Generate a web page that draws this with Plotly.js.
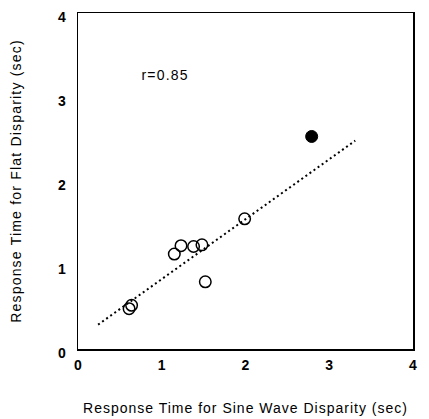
<!DOCTYPE html>
<html>
<head>
<meta charset="utf-8">
<script src="https://cdn.plot.ly/plotly-3.0.1.min.js"></script>
<style>
html,body{margin:0;padding:0;background:#fff;}
#chart{width:429px;height:419px;}
#chart .xtitle{letter-spacing:1px;}
#chart .ytitle{letter-spacing:1.2px;}
#chart .annotation-text{letter-spacing:1.2px;}
</style>
</head>
<body>
<div id="chart"></div>
<script>
// Open circles: sine-wave vs flat disparity response times
var openX = [1.99, 1.23, 1.15, 1.38, 1.48, 1.52, 0.61, 0.64];
var openY = [1.55, 1.23, 1.13, 1.22, 1.24, 0.80, 0.48, 0.52];
// Filled circle
var filledX = [2.79];
var filledY = [2.53];
// Regression line endpoints
var fitX = [0.24, 3.31];
var fitY = [0.29, 2.48];
var tickVals = [0, 1, 2, 3, 4];
var tickText = ["0", "1", "2", "3", "4"];
var rLabel = "r=0.85";
var xTitle = "Response Time for Sine Wave Disparity (sec)";
var yTitle = "Response Time for Flat Disparity (sec)";

var font = "Liberation Sans, Arial, Helvetica, sans-serif";

var traces = [
  {x: fitX, y: fitY, mode: "lines", type: "scatter",
   line: {color: "#000", width: 2, dash: "2px,3px"}, hoverinfo: "skip"},
  {x: openX, y: openY, mode: "markers", type: "scatter",
   marker: {size: 11.5, color: "rgba(255,255,255,0)", line: {color: "#000", width: 1.5}}},
  {x: filledX, y: filledY, mode: "markers", type: "scatter",
   marker: {size: 12, color: "#000", line: {color: "#000", width: 1}}}
];

var axisCommon = {
  range: [0, 4], tickvals: tickVals, ticktext: tickText,
  showgrid: false, zeroline: false, showline: true, mirror: true,
  linecolor: "#000", linewidth: 1.5, ticks: "",
  tickfont: {family: font, size: 14, color: "#000", weight: "bold"}
};

var layout = {
  width: 429, height: 419,
  margin: {l: 78, r: 16, t: 13, b: 70},
  paper_bgcolor: "#fff", plot_bgcolor: "#fff",
  showlegend: false,
  font: {family: font, color: "#000"},
  xaxis: Object.assign({}, axisCommon, {
    ticklabelstandoff: 3,
    title: {text: xTitle, font: {family: font, size: 14, color: "#000"}, standoff: 31}
  }),
  yaxis: Object.assign({}, axisCommon, {
    ticklabelstandoff: 8,
    ticklabelshift: 4,
    title: {text: yTitle, font: {family: font, size: 14, color: "#000"}, standoff: 33}
  }),
  annotations: [{x: 1.04, y: 3.26, xref: "x", yref: "y", text: rLabel, showarrow: false,
    font: {family: font, size: 14, color: "#000"}}]
};

Plotly.newPlot("chart", traces, layout, {staticPlot: true, displayModeBar: false});
</script>
</body>
</html>
